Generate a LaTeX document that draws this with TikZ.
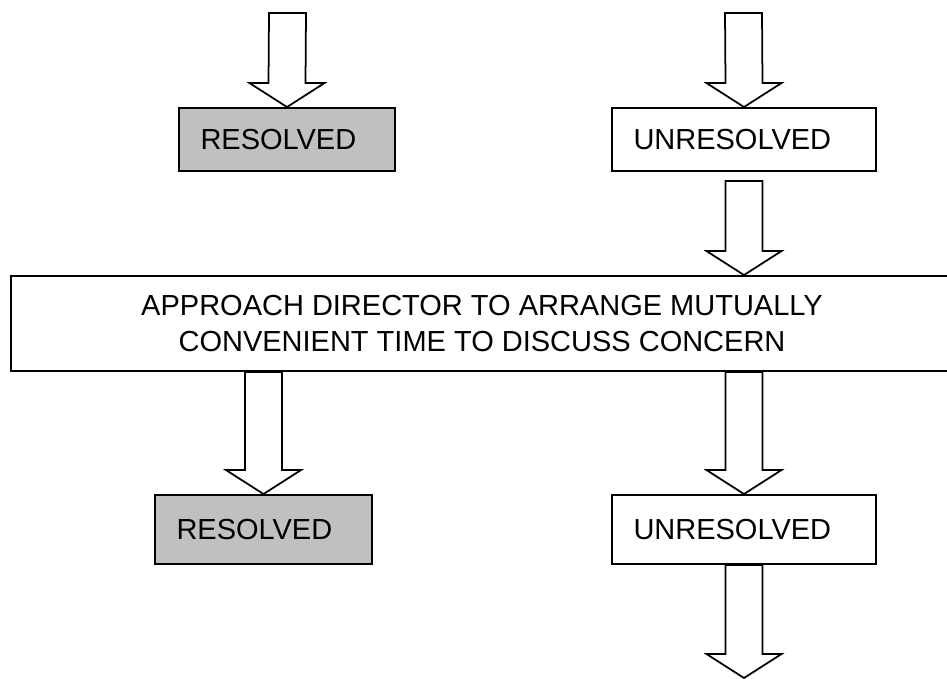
\documentclass[tikz,border=0pt]{standalone}
\usepackage{fontspec}
\setmainfont{Liberation Sans}
\usetikzlibrary{calc,positioning}
\definecolor{resgrey}{HTML}{C0C0C0}

\begin{document}
\begin{tikzpicture}
            \tikzstyle{box}=[draw, line width=1.1pt, inner ysep=0pt, inner xsep=0.43cm, minimum height=1.26cm, align=left, font=\fontsize{16.5}{21}\selectfont]
            \tikzstyle{fat}=[draw, fill=white, line width=1pt, line join=miter, to path={($(\tikztostart)+(-0.37,0)$) -- ($(\tikztotarget)+(-0.37,0.48)$) -- ($(\tikztotarget)+(-0.75,0.48)$) -- (\tikztotarget) -- ($(\tikztotarget)+(0.75,0.48)$) -- ($(\tikztotarget)+(0.37,0.48)$) -- ($(\tikztostart)+(0.37,0)$) -- cycle}]
            \clip (0,0) rectangle (18.94,-13.56);
            \node[box, fill=resgrey, text width=3.46cm] (res1) at (5.74,-2.79) {RESOLVED};
            \node[box, text width=4.42cm] (unres1) at (14.88,-2.79) {UNRESOLVED};
            \node[box, align=center, inner xsep=0pt, minimum width=18.84cm, minimum height=1.9cm] (appr) at (9.64,-6.47) {APPROACH DIRECTOR TO ARRANGE MUTUALLY\\CONVENIENT TIME TO DISCUSS CONCERN};
            \node[box, fill=resgrey, text width=3.48cm, minimum height=1.38cm] (res2) at (5.27,-10.59) {RESOLVED};
            \node[box, text width=4.42cm, minimum height=1.38cm] (unres2) at (14.88,-10.59) {UNRESOLVED};
            \coordinate (in1) at (5.75,-0.26);
            \coordinate (in2) at (14.87,-0.26);
            \coordinate[below=0.18 of unres1.south] (out1);
            \coordinate (out2) at (14.88,-13.56);
            \path (in1) edge[fat] (res1.north);
            \path (in2) edge[fat] (unres1.north);
            \path (out1) edge[fat] (unres1.south |- appr.north);
            \path (res2.north |- appr.south) edge[fat] (res2.north);
            \path (unres2.north |- appr.south) edge[fat] (unres2.north);
            \path (unres2.south) edge[fat] (out2);
        \end{tikzpicture}
\end{document}
